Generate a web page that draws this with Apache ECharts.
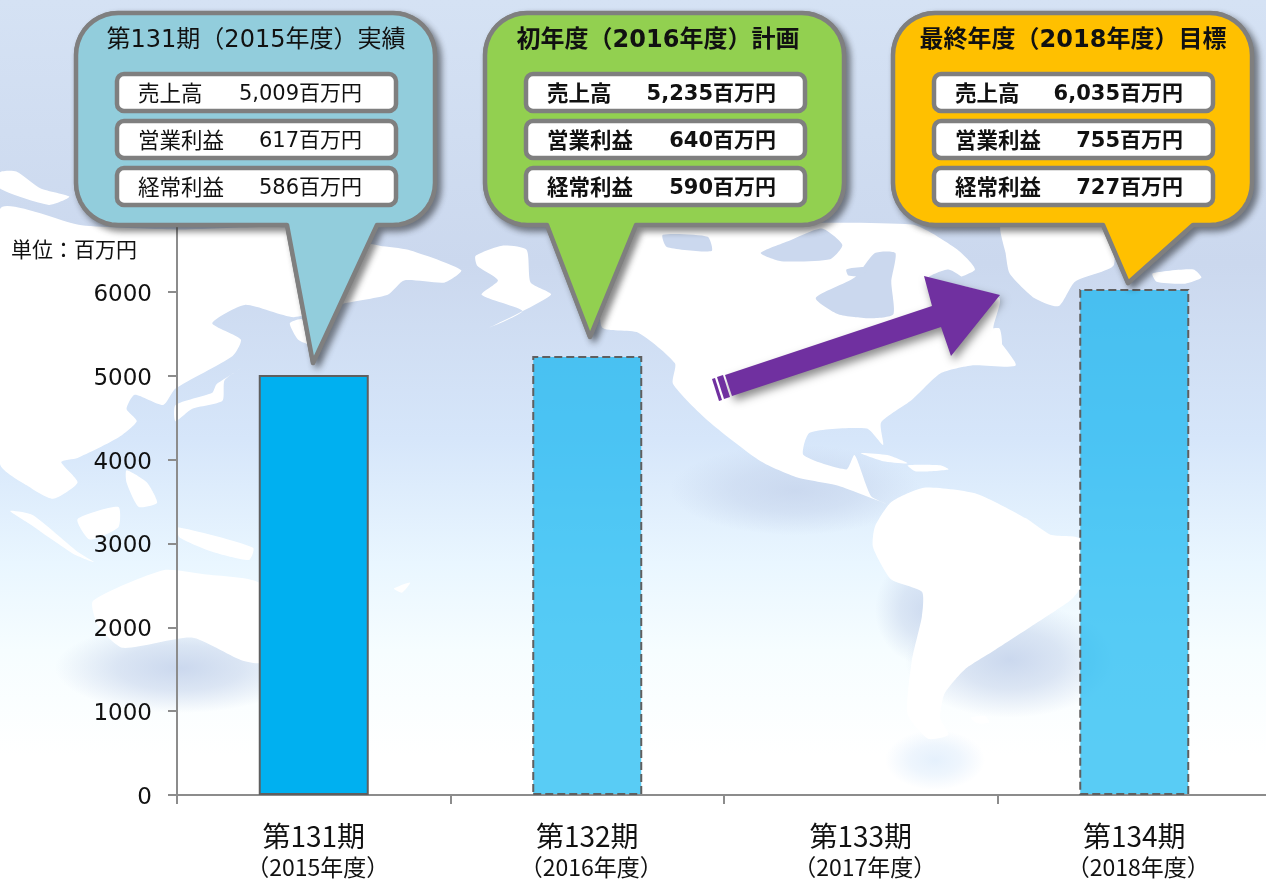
<!DOCTYPE html>
<html><head><meta charset="utf-8">
<style>html,body{margin:0;padding:0;background:#fff}#c{width:1266px;height:879px}</style>
<script src="https://cdn.jsdelivr.net/npm/echarts@6/dist/echarts.min.js"></script></head>
<body><div id="c"></div>
<script>
const periods = ['第131期','第132期','第133期','第134期'];
const fiscalYears = ['（2015年度）','（2016年度）','（2017年度）','（2018年度）'];
const actualSales = [5009, null, null, null];
const plannedSales = [null, 5235, null, 6035];
const yTicks = [0,1000,2000,3000,4000,5000,6000];
const rowLabels = ['売上高','営業利益','経常利益'];
const calloutTitles = ['第131期（2015年度）実績','初年度（2016年度）計画','最終年度（2018年度）目標'];
const calloutValues = [
  ['5,009百万円','617百万円','586百万円'],
  ['5,235百万円','640百万円','590百万円'],
  ['6,035百万円','755百万円','727百万円']
];
const unitLabel = '単位：百万円';

const FONT = "'DejaVu Sans','Noto Sans CJK JP',sans-serif";
const OCEAN = '#cbd8ee';
const c4 = pts => pts.map(p => [p[0]/2.45, 160+p[1]/2.45]);
const c5 = pts => pts.map(p => [626+p[0]/2.45, 200+p[1]/2.45]);
const land = pts => ({type:'polygon', z:-8, silent:true, shape:{points:pts, smooth:0.2}, style:{fill:'#fff'}});
const sea = pts => ({type:'polygon', z:-7, silent:true, shape:{points:pts, smooth:0.2}, style:{fill:OCEAN}});
const blob = (x,y,r,sy,rgb,a) => ({type:'circle', z:-9, silent:true, x:x, y:y, scaleY:sy, shape:{cx:0,cy:0,r:r},
  style:{fill:{type:'radial',x:.5,y:.5,r:.5,colorStops:[
    {offset:0,color:`rgba(${rgb},${a})`},{offset:.5,color:`rgba(${rgb},${a*.65})`},{offset:1,color:`rgba(${rgb},0)`}]}}});

const blue = '198,212,236';
const background = [
  {type:'rect', z:-10, silent:true, shape:{x:0,y:0,width:1266,height:879},
   style:{fill:{type:'linear',x:0,y:0,x2:0,y2:1,colorStops:[
     {offset:0,color:'#d5e2f4'},{offset:.3,color:'#cbd8ee'},{offset:.5,color:'#d6e6fa'},
     {offset:.64,color:'#e9f6ff'},{offset:.74,color:'#f6fdff'},{offset:.86,color:'#ffffff'},{offset:1,color:'#ffffff'}]}}},
  blob(180,668,125,.36,blue,.9), blob(795,490,125,.36,blue,.8), blob(925,610,50,1.1,blue,.8),
  blob(1010,660,105,.55,blue,.9), blob(935,760,50,.6,'218,234,251',.7),
  // Asia
  land(c4([[0,120],[200,160],[430,170],[700,165],[930,210],[1000,220],[1130,270],[1090,300],[990,295],[950,330],[850,350],[720,385],[600,355],[520,400],[590,440],[570,480],[430,560],[400,600],[330,575],[310,610],[335,640],[290,680],[190,730],[150,740],[190,790],[130,830],[70,800],[0,745]])),
  land(c4([[0,30],[40,28],[100,70],[170,90],[120,110],[0,70]])),
  land(c4([[710,400],[740,390],[755,450],[730,440]])),
  land(c4([[310,760],[360,790],[385,840],[340,850],[310,790]])),
  land(c4([[430,640],[470,610],[545,590],[550,540],[590,510],[560,530],[530,550],[520,570],[430,600]])),
  land(c4([[25,860],[80,870],[190,960],[230,985],[180,965],[70,890]])),
  land(c4([[190,880],[290,850],[290,900],[220,930]])),
  land(c4([[435,900],[620,950],[610,980],[520,960],[440,925]])),
  land(c4([[228,1080],[400,1005],[500,1015],[640,1040],[640,1230],[590,1225],[470,1170],[300,1195],[240,1140]])),
  land(c4([[965,1050],[1005,1035],[985,1060]])),
  land(c4([[1165,235],[1230,210],[1290,220],[1300,300],[1350,330],[1200,410],[1280,370],[1180,330],[1220,295],[1170,260]])),
  land(c4([[1000,280],[1060,270],[1040,290]])),
  // North America
  land(c5([[-40,60],[100,60],[700,60],[810,120],[855,170],[800,200],[915,240],[900,320],[955,405],[850,405],[770,425],[700,490],[625,545],[630,600],[590,560],[450,570],[435,625],[540,660],[560,625],[600,725],[640,745],[520,700],[420,680],[330,640],[200,540],[115,450],[120,400],[30,325],[-60,310]])),
  sea(c5([[465,240],[560,190],[610,130],[660,130],[650,200],[655,280],[600,290],[520,280]])),
  sea(c5([[90,85],[200,90],[210,125],[100,115]])),
  sea(c5([[330,130],[400,100],[480,70],[530,110],[500,145],[380,150]])),
  sea(c5([[740,190],[790,170],[830,195],[820,215],[760,215]])),
  sea(c5([[540,170],[590,165],[580,185],[545,185]])),
  land(c5([[880,320],[915,315],[920,360],[880,345]])),
  land(c5([[575,620],[640,625],[690,645],[630,640]])),
  land(c5([[690,650],[770,650],[790,660],[710,665]])),
  // Greenland and Iceland
  land(c5([[920,60],[1175,60],[1195,160],[1100,200],[1060,260],[1000,240],[940,180],[930,130]])),
  land(c5([[1290,180],[1390,170],[1410,190],[1370,205],[1300,200]])),
  // South America
  land(c5([[650,740],[730,705],[860,720],[980,780],[1040,820],[1112,830],[1112,950],[1090,980],[1000,1040],[900,1105],[830,1150],[780,1210],[770,1270],[790,1310],[740,1320],[690,1260],[700,1130],[725,1020],[725,960],[650,930],[605,850],[610,800]])),
  land(c5([[845,1268],[880,1265],[890,1280],[860,1282]]))
];

const textEl = (x,y,text,size,bold,align,z) => ({type:'text', z:z, silent:true, x:x, y:y,
  style:{text:text, fill:'#111', font:(bold?'bold ':'')+size+'px '+FONT, textAlign:align, textVerticalAlign:'middle'}});

function arc(cx,cy,r,a0,a1){const o=[];for(let k=0;k<=10;k++){const a=a0+(a1-a0)*k/10;o.push([cx+r*Math.cos(a),cy+r*Math.sin(a)]);}return o;}
function roundedOutline(L,R,T,B,r,t){
  const P=Math.PI;
  return [].concat(
    arc(L+r,T+r,r,P,1.5*P), arc(R-r,T+r,r,1.5*P,2*P), arc(R-r,B-r,r,0,.5*P),
    [[t[3],B],[t[1],t[2]],[t[0],B]], arc(L+r,B-r,r,.5*P,P));
}

const callouts = [
  {left:76,  fill:'#92cddc', bold:false, tail:[287,313,363,377], labelDx:62, valueDx:286, titleX:256},
  {left:485, fill:'#92d050', bold:true,  tail:[547,590,337,636], labelDx:62, valueDx:291, titleX:658},
  {left:893, fill:'#ffc000', bold:true,  tail:[1103,1128,283,1193], labelDx:62, valueDx:290, titleX:1073}
];
const calloutEls = [];
callouts.forEach((c,i) => {
  const L=c.left, R=L+359, T=13, B=225, r=42;
  const pts = roundedOutline(L,R,T,B,r,c.tail);
  calloutEls.push({type:'polygon', z:9, silent:true, shape:{points:pts},
    style:{fill:'#7f7f7f', stroke:'#7f7f7f', lineWidth:4, lineJoin:'round', shadowBlur:7, shadowOffsetX:4, shadowOffsetY:4, shadowColor:'rgba(0,0,0,.45)'}});
  calloutEls.push({type:'polygon', z:10, silent:true, shape:{points:pts},
    style:{fill:c.fill, stroke:'#7f7f7f', lineWidth:4.5, lineJoin:'round'}});
  calloutEls.push(textEl(c.titleX, 41, calloutTitles[i], 24, c.bold, 'center', 12));
  rowLabels.forEach((lab,j) => {
    const y = 74 + j*47;
    calloutEls.push({type:'rect', z:11, silent:true, shape:{x:L+41,y:y,width:279,height:37,r:7},
      style:{fill:'#fff', stroke:'#7f7f7f', lineWidth:4.5}});
    calloutEls.push(textEl(L+c.labelDx, y+21, lab, 21.5, c.bold, 'left', 12));
    calloutEls.push(textEl(L+c.valueDx, y+21, calloutValues[i][j], 21, c.bold, 'right', 12));
  });
});

const PURPLE = '#7030a0';
const arrowEls = [
  {type:'polygon', z:9, silent:true, shape:{points:[[725,375],[932,306],[924,276],[1000,295],[951,356],[941,327],[732,396]]},
   style:{fill:PURPLE, shadowBlur:8, shadowOffsetX:3, shadowOffsetY:5, shadowColor:'rgba(0,0,0,.45)'}},
  {type:'polygon', z:9, silent:true, shape:{points:[[717,377],[723,375],[730,397],[724,399]]}, style:{fill:PURPLE}},
  {type:'polygon', z:9, silent:true, shape:{points:[[712,379],[715,378],[722,400],[719,401]]}, style:{fill:PURPLE}}
];

const chart = echarts.init(document.getElementById('c'), null, {renderer:'canvas'});
chart.setOption({
  animation:false,
  backgroundColor:'#fff',
  textStyle:{fontFamily:FONT},
  grid:{left:177, top:208, width:1094, height:587, containLabel:false, outerBoundsMode:'none'},
  xAxis:{type:'category', data:periods.map((p,i)=>p+'\n'+fiscalYears[i]),
    axisLine:{lineStyle:{color:'#8c8c8c',width:2}},
    axisTick:{show:true, alignWithLabel:false, length:9, lineStyle:{color:'#8c8c8c',width:2}},
    axisLabel:{interval:0, margin:26, color:'#111',
      formatter:(v)=>{const s=v.split('\n');return '{a|'+s[0]+'}\n{b|'+s[1]+'}';},
      rich:{a:{fontSize:28,lineHeight:31,fontFamily:"'Noto Sans CJK JP',sans-serif",color:'#111'},
            b:{fontSize:23,lineHeight:30,padding:[0,0,0,8],fontFamily:"'Noto Sans CJK JP',sans-serif",color:'#111'}}}},
  yAxis:{type:'value', min:0, max:7000, interval:1000, splitLine:{show:false},
    axisLine:{show:true, lineStyle:{color:'#8c8c8c',width:2}},
    axisTick:{show:true, length:9, lineStyle:{color:'#8c8c8c',width:2}},
    axisLabel:{margin:25, fontSize:23, color:'#111', fontFamily:"'DejaVu Sans',sans-serif", verticalAlign:'top', lineHeight:6,
      formatter:v=>yTicks.includes(v)?String(v):''}},
  series:[
    {type:'bar', name:'実績', data:actualSales, barWidth:110, barGap:'-100%', z:3,
     itemStyle:{color:'#00b0f0', borderColor:'#5f5f5f', borderWidth:2}},
    {type:'bar', name:'計画', data:plannedSales, barWidth:110, z:3,
     itemStyle:{color:'rgba(0,176,240,.65)', borderColor:'#5f5f5f', borderWidth:2, borderType:'dashed'}}
  ],
  graphic:{elements:[...background,
    {type:'text', z:5, silent:true, x:11, y:249, style:{text:unitLabel, fill:'#111', font:"21px 'Noto Sans CJK JP',sans-serif", textVerticalAlign:'middle'}},
    ...arrowEls, ...calloutEls]}
});
</script></body></html>
